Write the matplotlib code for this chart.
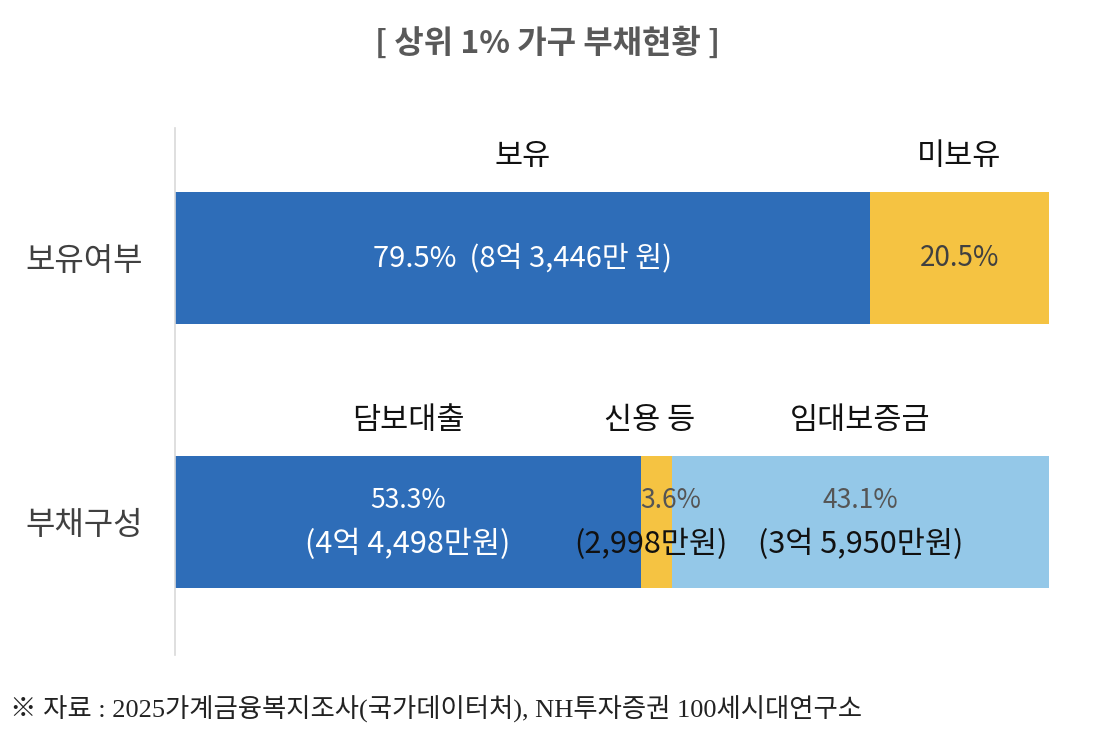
import matplotlib
matplotlib.use("Agg")
import matplotlib.pyplot as plt

plt.rcParams['font.family'] = ['Noto Sans CJK KR', 'DejaVu Sans']

title = "[ 상위 1% 가구 부채현황 ]"
categories = ["부채구성", "보유여부"]

own_names = ["보유", "미보유"]
own_values = [79.5, 20.5]
own_labels = ["79.5%  (8억 3,446만 원)", "20.5%"]

debt_names = ["담보대출", "신용 등", "임대보증금"]
debt_values = [53.3, 3.6, 43.1]
debt_pct = ["53.3%", "3.6%", "43.1%"]
debt_amt = ["(4억 4,498만원)", "(2,998만원)", "(3억 5,950만원)"]

footnote = "※ 자료 : 2025가계금융복지조사(국가데이터처), NH투자증권 100세시대연구소"

c_dark = "#2E6DB8"
c_yellow = "#F5C342"
c_light = "#94C8E8"

fig = plt.figure(figsize=(10.97, 7.33), dpi=100)
ax = fig.add_axes([175/1097, (733-655)/733, 874/1097, 527/733])

bar_h = 0.5
name_fs = 22

# ownership bar (y=1)
own_colors = [c_dark, c_yellow]
own_fs = [21, 20]
left = 0
for v, col, lab, nm, tc, fs in zip(own_values, own_colors, own_labels, own_names,
                                   ["white", "#404040"], own_fs):
    ax.barh(1, v, left=left, height=bar_h, color=col)
    ax.text(left + v/2, 1, lab, ha="center", va="center", fontsize=fs, color=tc)
    ax.text(left + v/2, 1.385, nm, ha="center", va="center", fontsize=name_fs, color="#111111")
    left += v

# debt composition bar (y=0)
debt_colors = [c_dark, c_yellow, c_light]
pct_colors = ["white", "#555555", "#555555"]
amt_colors = ["white", "#111111", "#111111"]
name_x_off = [0, -0.8, 0]
pct_x_off = [0, 1.6, 0]
amt_x_off = [0, -0.7, 0]
left = 0
for v, col in zip(debt_values, debt_colors):
    ax.barh(0, v, left=left, height=bar_h, color=col)
    left += v
left = 0
for v, p, a, nm, pc, acol, no, po, ao in zip(debt_values, debt_pct, debt_amt, debt_names,
                                             pct_colors, amt_colors, name_x_off, pct_x_off, amt_x_off):
    cx = left + v/2
    ax.text(cx + po, 0.08, p, ha="center", va="center", fontsize=19, color=pc)
    ax.text(cx + ao, -0.085, a, ha="center", va="center", fontsize=22, color=acol)
    ax.text(cx + no, 0.385, nm, ha="center", va="center", fontsize=name_fs, color="#111111")
    left += v

ax.set_xlim(0, 100)
ax.set_ylim(-0.504, 1.492)
ax.set_yticks([0, 1])
ax.set_yticklabels(categories, fontsize=23, color="#404040")
ax.tick_params(axis="y", length=0, pad=23)
ax.set_xticks([])
for s in ["top", "right", "bottom"]:
    ax.spines[s].set_visible(False)
ax.spines["left"].set_color("#D9D9D9")
ax.spines["left"].set_linewidth(1.2)

fig.text(548/1097, 1 - 44/733, title, ha="center", va="center", fontsize=23,
         fontweight="bold", color="#595959")
fig.text(10/1097, 1 - 708/733, footnote, ha="left", va="center", fontsize=19,
         color="#222222", family=['Liberation Serif', 'Noto Sans CJK KR', 'DejaVu Sans'])

fig.savefig("out.png", dpi=100)
